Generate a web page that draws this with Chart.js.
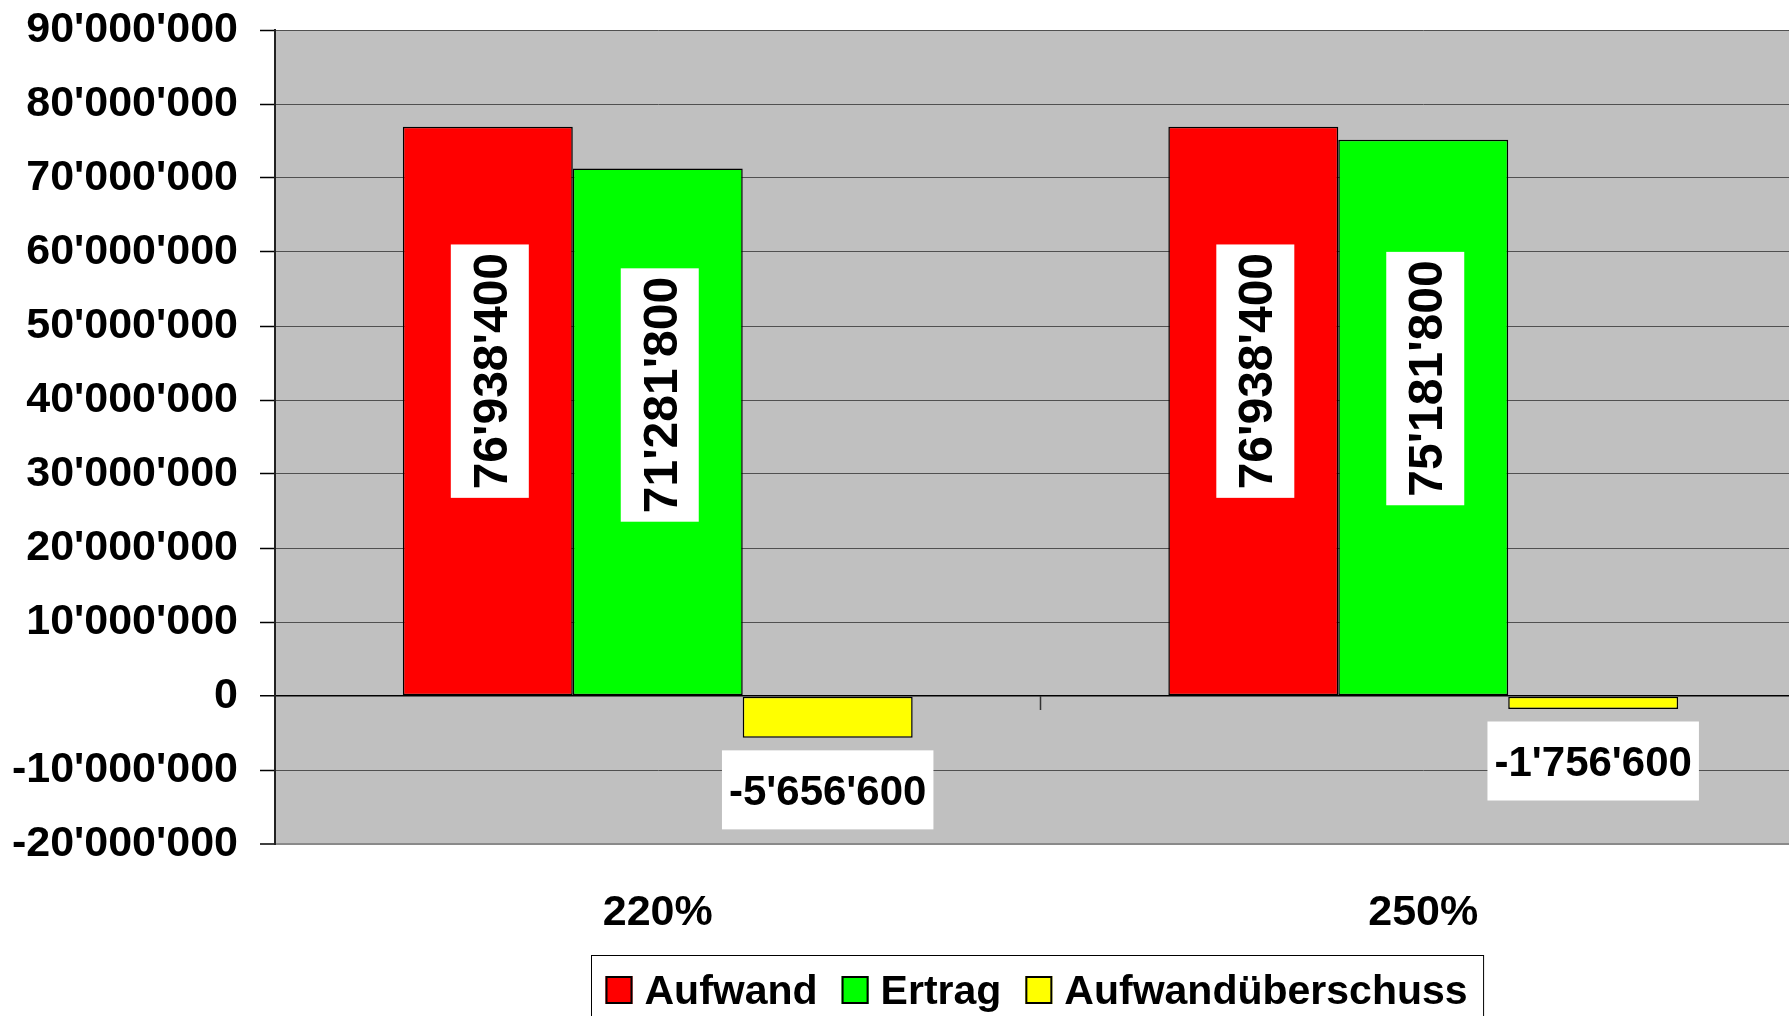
<!DOCTYPE html>
<html><head><meta charset="utf-8">
<script src="https://cdn.jsdelivr.net/npm/chart.js@4/dist/chart.umd.min.js"></script>
<style>
html,body{margin:0;padding:0;background:#fff;overflow:hidden;width:1789px;height:1016px}
#wrap{position:absolute;left:0;top:0;width:1810px;height:1016px}
</style></head><body><div id="wrap"><canvas id="c" width="1810" height="1016"></canvas></div>
<script>
const categories = ['220%', '250%'];
const seriesNames = ['Aufwand', 'Ertrag', 'Aufwandüberschuss'];
const aufwand = [76938400, 76938400];
const ertrag = [71281800, 75181800];
const ueberschuss = [-5656600, -1756600];
const seriesColors = ['#FF0000', '#00FF00', '#FFFF00'];
const yMin = -20000000, yMax = 90000000, yStep = 10000000;

const FONT = '"Liberation Sans", Arial, Helvetica, sans-serif';

function fmt(v){
  const s = Math.abs(Math.round(v)).toString().replace(/\B(?=(\d{3})+(?!\d))/g, "'");
  return (v < 0 ? '-' : '') + s;
}

const plotBg = {
  id: 'plotBg',
  beforeDraw(chart){
    const {ctx, chartArea:a} = chart;
    ctx.save();
    ctx.fillStyle = '#C0C0C0';
    ctx.fillRect(a.left, a.top, a.right - a.left, a.bottom - a.top);
    ctx.restore();
  }
};

const catTick = {
  id: 'catTick',
  afterDatasetsDraw(chart){
    const {ctx} = chart;
    const xs = chart.scales.x, ys = chart.scales.y;
    const y0 = ys.getPixelForValue(0);
    ctx.save();
    ctx.strokeStyle = '#333';
    ctx.lineWidth = 1.5;
    for (let i = 0; i < categories.length - 1; i++){
      const xb = (xs.getPixelForValue(i) + xs.getPixelForValue(i + 1)) / 2;
      ctx.beginPath(); ctx.moveTo(xb, y0); ctx.lineTo(xb, y0 + 14); ctx.stroke();
    }
    ctx.restore();
  }
};

const valueLabels = {
  id: 'valueLabels',
  afterDatasetsDraw(chart){
    const ctx = chart.ctx;
    chart.data.datasets.forEach((ds, di) => {
      const meta = chart.getDatasetMeta(di);
      meta.data.forEach((bar, i) => {
        const v = ds.data[i];
        const txt = fmt(v);
        ctx.save();
        if (v >= 0){
          const fs = 48;
          ctx.font = 'bold ' + fs + 'px ' + FONT;
          const w = ctx.measureText(txt).width;
          const cx = bar.x + 2, cy = bar.base + (bar.y - bar.base) * 0.57;
          const bw = 78, bh = w + 17;
          ctx.fillStyle = '#fff';
          ctx.fillRect(cx - bw/2, cy - bh/2, bw, bh);
          ctx.translate(cx, cy);
          ctx.rotate(-Math.PI/2);
          ctx.fillStyle = '#000';
          ctx.textAlign = 'center';
          ctx.textBaseline = 'alphabetic';
          ctx.fillText(txt, 0, fs * 0.358);
        } else {
          const fs = 42;
          ctx.font = 'bold ' + fs + 'px ' + FONT;
          const w = ctx.measureText(txt).width;
          const cx = bar.x, cy = bar.y + 52;
          const bw = w + 14, bh = 79;
          ctx.fillStyle = '#fff';
          ctx.fillRect(cx - bw/2, cy - bh/2, bw, bh);
          ctx.fillStyle = '#000';
          ctx.textAlign = 'center';
          ctx.textBaseline = 'alphabetic';
          ctx.fillText(txt, cx, cy + fs * 0.358);
        }
        ctx.restore();
      });
    });
  }
};

const boxLegend = {
  id: 'boxLegend',
  afterDraw(chart){
    const ctx = chart.ctx;
    const a = chart.chartArea;
    const fs = 41;
    ctx.save();
    ctx.font = 'bold ' + fs + 'px ' + FONT;
    const sq = 27, sqH = 28, gapIn = 12, gapOut = 24, padL = 14, padR = 16;
    const widths = seriesNames.map(n => ctx.measureText(n).width);
    let content = 0;
    widths.forEach((w, i) => { content += sq + gapIn + w + (i < widths.length - 1 ? gapOut : 0); });
    const total = padL + content + padR;
    const cxm = (a.left + a.right) / 2 - 3;
    const left = Math.round(cxm - total / 2) + 0.5;
    const top = 955.5;
    ctx.strokeStyle = '#000';
    ctx.lineWidth = 1;
    ctx.fillStyle = '#fff';
    ctx.fillRect(left, top, total, 100);
    ctx.strokeRect(left, top, total, 100);
    let x = left + padL;
    const baseline = 1004;
    seriesNames.forEach((n, i) => {
      ctx.fillStyle = seriesColors[i];
      ctx.fillRect(x, 976, sq, sqH);
      ctx.strokeStyle = '#000';
      ctx.lineWidth = 2;
      ctx.strokeRect(x + 1, 977, sq - 2, sqH - 2);
      x += sq + gapIn;
      ctx.fillStyle = '#000';
      ctx.textAlign = 'left';
      ctx.textBaseline = 'alphabetic';
      ctx.fillText(n, x, baseline);
      x += widths[i] + gapOut;
    });
    ctx.restore();
  }
};

const seriesData = [aufwand, ertrag, ueberschuss];

new Chart(document.getElementById('c'), {
  type: 'bar',
  data: {
    labels: categories,
    datasets: seriesNames.map((n, i) => ({
      label: n,
      data: seriesData[i],
      backgroundColor: seriesColors[i],
      borderColor: '#000',
      borderWidth: 1.5,
      borderSkipped: false,
      barPercentage: 1.0,
      categoryPercentage: 0.666
    }))
  },
  options: {
    responsive: false,
    animation: false,
    devicePixelRatio: 1,
    layout: { padding: { left: 0, right: 4, top: 30, bottom: 0 } },
    plugins: { legend: { display: false }, tooltip: { enabled: false } },
    scales: {
      x: {
        grid: { display: false, drawTicks: false },
        border: { display: false },
        ticks: { color: '#000', font: { family: FONT, size: 43, weight: 'bold' }, padding: 43 },
        afterFit(s){ s.height = 172; s.paddingLeft = 0; s.paddingRight = 0; }
      },
      y: {
        min: yMin, max: yMax,
        ticks: {
          stepSize: yStep,
          color: '#000',
          padding: 22,
          font: { family: FONT, size: 43, weight: 'bold' },
          callback: v => fmt(v)
        },
        grid: {
          color: c => (c.tick && c.tick.value === 0) ? '#000' : (c.tick && c.tick.value === yMin ? '#8a8a8a' : '#505050'),
          lineWidth: c => (c.tick && c.tick.value === 0) ? 1.5 : (c.tick && c.tick.value === yMin ? 2 : 1),
          tickLength: 15,
          tickColor: '#000',
          tickWidth: 1.5
        },
        border: { display: true, color: '#222', width: 2 },
        afterFit(s){ s.width = 275; s.paddingTop = 0; s.paddingBottom = 0; }
      }
    }
  },
  plugins: [plotBg, catTick, valueLabels, boxLegend]
});
</script></body></html>
